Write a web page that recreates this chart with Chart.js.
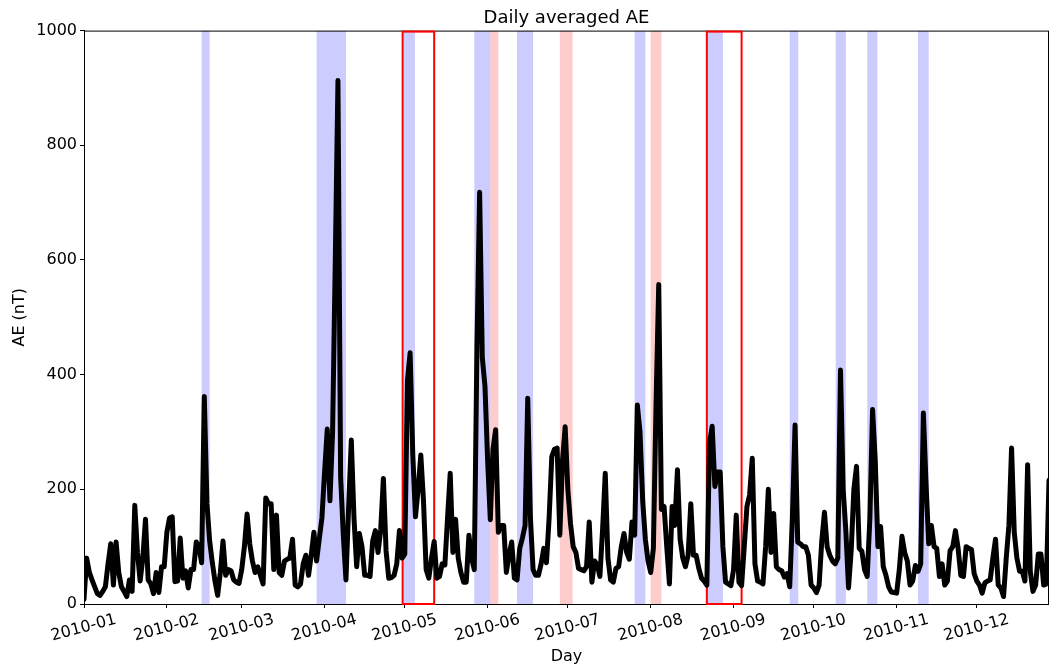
<!DOCTYPE html>
<html>
<head>
<meta charset="utf-8">
<script src="https://cdn.jsdelivr.net/npm/chart.js@4.4.1/dist/chart.umd.min.js"></script>
<style>
  body { margin: 0; background: #fff; }
  canvas { display: block; }
</style>
</head>
<body>
<canvas id="ae-chart" width="1049" height="666"></canvas>
<script>
// day of year (0 = 2010-01-01) -> daily averaged AE (nT)
const aeValues = [
  8, 80, 55, 42, 30, 18, 15, 22, 30, 70, 105, 33, 108, 55, 30, 22, 13, 42, 22, 172,
  90, 40, 80, 148, 42, 35, 18, 55, 20, 65, 65, 125, 150, 152, 39, 40, 115, 45, 58, 28,
  60, 60, 108, 100, 72, 362, 175, 110, 72, 40, 15, 55, 110, 50, 60, 58, 42, 38, 36, 60,
  100, 157, 105, 75, 55, 65, 50, 35, 185, 175, 175, 60, 155, 55, 50, 75, 78, 80, 113, 33,
  30, 35, 70, 85, 50, 85, 125, 75, 113, 150, 230, 305, 180, 300, 600, 913, 222, 120, 42, 170,
  286, 150, 65, 123, 100, 50, 50, 48, 110, 128, 90, 130, 219, 93, 45, 46, 50, 70, 128, 80,
  87, 390, 438, 260, 152, 200, 260, 180, 60, 45, 80, 109, 45, 48, 70, 68, 150, 228, 90, 148,
  80, 55, 38, 38, 120, 80, 60, 450, 718, 430, 380, 250, 147, 270, 304, 125, 137, 137, 55, 85,
  108, 45, 42, 97, 115, 137, 359, 150, 60, 50, 50, 70, 97, 72, 150, 257, 270, 272, 120, 250,
  309, 200, 140, 100, 90, 62, 60, 58, 65, 143, 38, 75, 68, 48, 130, 228, 80, 42, 38, 62,
  65, 100, 123, 90, 78, 143, 120, 347, 300, 180, 113, 75, 55, 97, 350, 557, 165, 170, 100, 35,
  170, 137, 234, 113, 80, 65, 85, 175, 85, 85, 62, 45, 40, 33, 280, 310, 205, 230, 230, 100,
  38, 35, 32, 60, 155, 38, 32, 100, 170, 190, 254, 70, 40, 38, 35, 100, 200, 90, 158, 65,
  60, 58, 47, 53, 30, 150, 312, 108, 105, 100, 100, 85, 33, 28, 20, 33, 110, 160, 100, 85,
  75, 70, 80, 408, 200, 128, 28, 93, 200, 240, 97, 92, 60, 48, 150, 339, 250, 100, 135, 65,
  50, 30, 21, 20, 19, 60, 118, 90, 75, 33, 40, 67, 57, 70, 333, 210, 105, 137, 100, 97,
  48, 70, 33, 40, 93, 100, 128, 97, 50, 48, 100, 97, 95, 53, 40, 33, 19, 37, 40, 42,
  80, 113, 33, 28, 13, 80, 137, 272, 125, 80, 57, 57, 40, 243, 57, 22, 33, 87, 87, 33,
  35, 216
];
const dayIndex = aeValues.map((_, i) => i);

const monthStarts = [0, 31, 59, 90, 120, 151, 181, 212, 243, 273, 304, 334];
const monthLabels = ["2010-01", "2010-02", "2010-03", "2010-04", "2010-05", "2010-06",
  "2010-07", "2010-08", "2010-09", "2010-10", "2010-11", "2010-12"];
const yTicks = [0, 200, 400, 600, 800, 1000];

// shaded intervals [startDay, endDay]
const blueSpans = [[44, 47], [87, 98], [119.5, 123.8], [146, 152], [162, 168], [206, 210],
  [233, 239], [264, 267.2], [281.2, 285], [293, 296.8], [312, 316]];
const redSpans = [[152, 155], [178, 182.8], [212, 216]];
// outlined boxes [startDay, endDay]
const redBoxes = [[119.2, 131], [233, 246]];

const FONT = "'DejaVu Sans', 'Liberation Sans', sans-serif";

const spanPlugin = {
  id: "spans",
  beforeDatasetsDraw(chart) {
    const { ctx, chartArea: a, scales: { x } } = chart;
    ctx.save();
    ctx.beginPath();
    ctx.rect(a.left, a.top, a.right - a.left, a.bottom - a.top);
    ctx.clip();
    ctx.fillStyle = "rgba(0,0,255,0.2)";
    blueSpans.forEach(([s, e]) => {
      const x0 = x.getPixelForValue(s), x1 = x.getPixelForValue(e);
      ctx.fillRect(x0, a.top, x1 - x0, a.bottom - a.top);
    });
    ctx.fillStyle = "rgba(255,0,0,0.2)";
    redSpans.forEach(([s, e]) => {
      const x0 = x.getPixelForValue(s), x1 = x.getPixelForValue(e);
      ctx.fillRect(x0, a.top, x1 - x0, a.bottom - a.top);
    });
    ctx.restore();

    // frame top/right like matplotlib spines
    ctx.save();
    ctx.strokeStyle = "#000";
    ctx.lineWidth = 1;
    ctx.strokeRect(a.left + 0.5, a.top + 0.5, a.right - a.left - 1, a.bottom - a.top);
    ctx.strokeStyle = "#ff0000";
    ctx.lineWidth = 2;
    redBoxes.forEach(([s, e]) => {
      const x0 = x.getPixelForValue(s), x1 = x.getPixelForValue(e);
      ctx.strokeRect(x0, a.top + 1, x1 - x0, a.bottom - a.top - 1);
    });
    ctx.restore();
  }
};

new Chart(document.getElementById("ae-chart"), {
  type: "line",
  data: {
    labels: dayIndex,
    datasets: [{
      label: "AE",
      data: dayIndex.map((d, i) => ({ x: d, y: aeValues[i] })),
      borderColor: "#000",
      borderWidth: 5,
      borderJoinStyle: "round",
      borderCapStyle: "round",
      pointRadius: 0,
      tension: 0
    }]
  },
  options: {
    responsive: false,
    animation: false,
    layout: { padding: 0 },
    plugins: {
      legend: { display: false },
      tooltip: { enabled: false },
      title: {
        display: true,
        text: "Daily averaged AE",
        fullSize: false,
        color: "#000",
        font: { family: FONT, size: 18, weight: "normal" },
        padding: { top: 8, bottom: 1 }
      }
    },
    scales: {
      x: {
        type: "linear",
        min: 0,
        max: 361,
        afterBuildTicks: (scale) => { scale.ticks = monthStarts.map(v => ({ value: v })); },
        afterFit: (scale) => { scale.height = 62; },
        ticks: {
          autoSkip: false,
          minRotation: 15,
          maxRotation: 15,
          labelOffset: 32,
          padding: 2,
          color: "#000",
          font: { family: FONT, size: 16 },
          callback: (v) => monthLabels[monthStarts.indexOf(v)]
        },
        grid: { drawOnChartArea: false, color: "#000", tickLength: 4 },
        border: { color: "#000", width: 1 },
        title: {
          display: true,
          text: "Day",
          color: "#000",
          font: { family: FONT, size: 16 },
          padding: { top: 0, bottom: 0 }
        }
      },
      y: {
        min: 0,
        max: 1000,
        afterBuildTicks: (scale) => { scale.ticks = yTicks.map(v => ({ value: v })); },
        afterFit: (scale) => { scale.width = 84; },
        ticks: {
          padding: 3,
          color: "#000",
          font: { family: FONT, size: 16 },
          callback: (v) => String(v)
        },
        grid: { drawOnChartArea: false, color: "#000", tickLength: 4 },
        border: { color: "#000", width: 1 },
        title: {
          display: true,
          text: "AE (nT)",
          color: "#000",
          font: { family: FONT, size: 16 },
          padding: { top: 10, bottom: 0 }
        }
      }
    }
  },
  plugins: [spanPlugin]
});
</script>
</body>
</html>
